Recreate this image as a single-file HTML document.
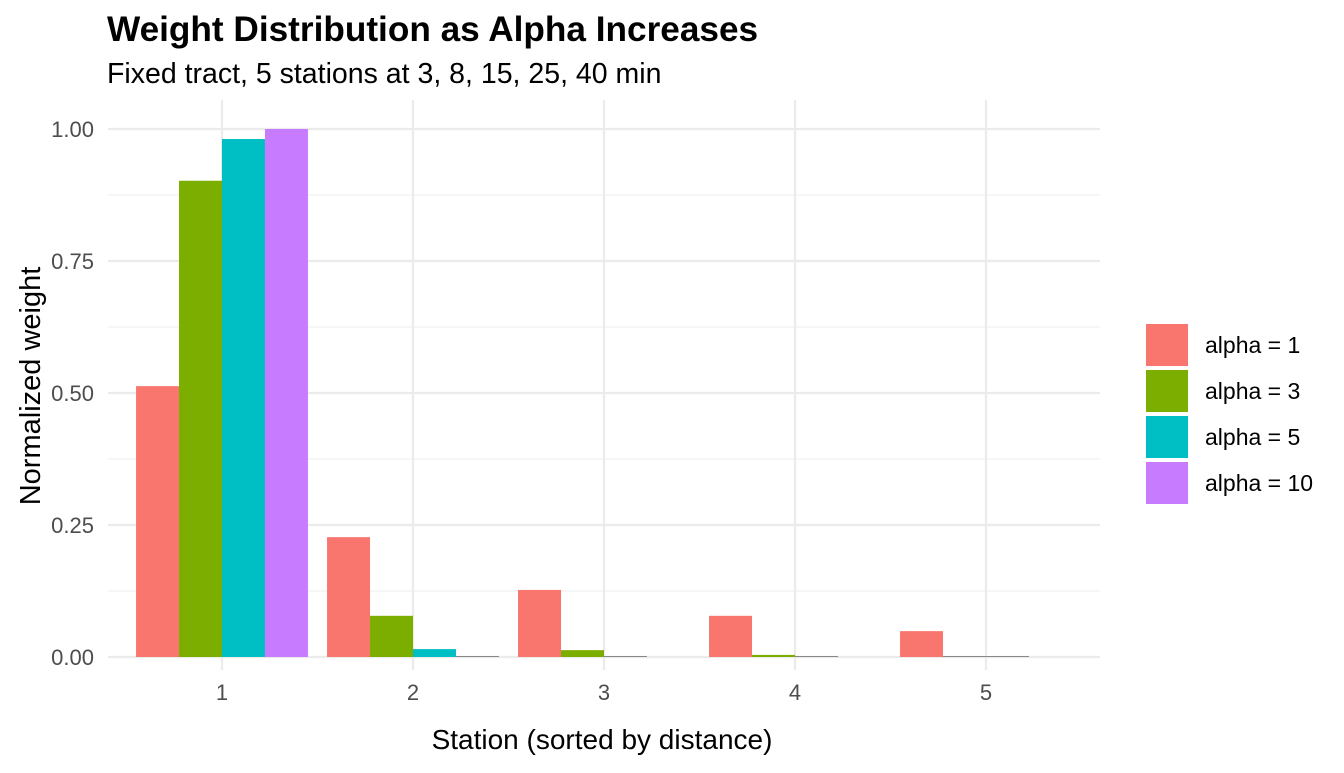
<!DOCTYPE html>
<html><head><meta charset="utf-8"><style>
body{margin:0;background:#fff;font-family:"Liberation Sans",Arial,sans-serif}
</style></head><body>
<svg id="chart" width="1344" height="768" viewBox="0 0 1344 768">
<text x="107" y="41" font-size="35.2" font-weight="bold" fill="#000">Weight Distribution as Alpha Increases</text>
<text x="107" y="83" font-size="28.5" fill="#000">Fixed tract, 5 stations at 3, 8, 15, 25, 40 min</text>
<g id="grid"></g>
<g id="bars"></g>
<g id="axes"></g>
<text x="602" y="749" font-size="28" text-anchor="middle" fill="#000">Station (sorted by distance)</text>
<text transform="translate(40,386) rotate(-90)" font-size="29" text-anchor="middle" fill="#000">Normalized weight</text>
<g id="legend"></g>
</svg>
<script>
const categories = ["1","2","3","4","5"];
const seriesNames = ["alpha = 1","alpha = 3","alpha = 5","alpha = 10"];
const colors = ["#F8766D","#7CAE00","#00BFC4","#C77CFF"];
const alpha1 = [0.513, 0.227, 0.127, 0.078, 0.049];
const alpha3 = [0.902, 0.078, 0.013, 0.004, 0.0005];
const alpha5 = [0.981, 0.015, 0.001, 0.0002, 0.0001];
const alpha10 = [1.0, 0.0002, 0, 0, 0];
const yTicks = [0, 0.25, 0.5, 0.75, 1.0];
const yTickLabels = ["0.00","0.25","0.50","0.75","1.00"];
const series = [alpha1, alpha3, alpha5, alpha10];

const NS = "http://www.w3.org/2000/svg";
const px0 = 108, px1 = 1100, py0 = 100, py1 = 670;
const y = v => 657 - v * 528;
const step = 191;
const x = i => 222 + i * step;
const barW = step * 0.9 / 4;
function mk(tag, attrs, parent){const e=document.createElementNS(NS,tag);for(const k in attrs)e.setAttribute(k,attrs[k]);parent.appendChild(e);return e;}
const grid = document.getElementById('grid'), bars = document.getElementById('bars'), axes = document.getElementById('axes'), legend = document.getElementById('legend');
for (let i = 0; i < yTicks.length - 1; i++) {
  const m = (yTicks[i] + yTicks[i+1]) / 2;
  const l = mk('line',{x1:px0,x2:px1,y1:y(m),y2:y(m),stroke:'#f0f0f0','stroke-width':1.2},grid);
  
  
}
yTicks.forEach((t, i) => {
  const l = mk('line',{x1:px0,x2:px1,y1:y(t),y2:y(t),stroke:'#ebebeb','stroke-width':2.2},grid);
  
  
  const tx = mk('text',{x:94,y:y(t)+8,'font-size':22,'text-anchor':'end',fill:'#4d4d4d'},axes);
  tx.textContent = yTickLabels[i];
  
  
});
categories.forEach((c, i) => {
  const l = mk('line',{x1:x(i),x2:x(i),y1:py0,y2:py1,stroke:'#ebebeb','stroke-width':2.2},grid);
  
  
  const tx = mk('text',{x:x(i),y:700,'font-size':22,'text-anchor':'middle',fill:'#4d4d4d'},axes);
  tx.textContent = c;
  
  
});
series.forEach((vals, s) => {
  vals.forEach((v, i) => {
    if (v <= 0) return;
    const left = x(i) - 2 * barW + s * barW;
    const h = Math.max(v * 528, 1);
    const r = mk('rect',{x:left,y:657-h,width:barW,height:h,fill:h<=1.5?'#888':colors[s]},bars);
    
    
  });
});
seriesNames.forEach((n, s) => {
  const r = mk('rect',{x:1146,y:324+s*46,width:42,height:42,fill:colors[s]},legend);
  
  
  const t = mk('text',{x:1205,y:353+s*46,'font-size':23,fill:'#000'},legend);
  t.textContent = n;
  
  
});
</script>
</body></html>
